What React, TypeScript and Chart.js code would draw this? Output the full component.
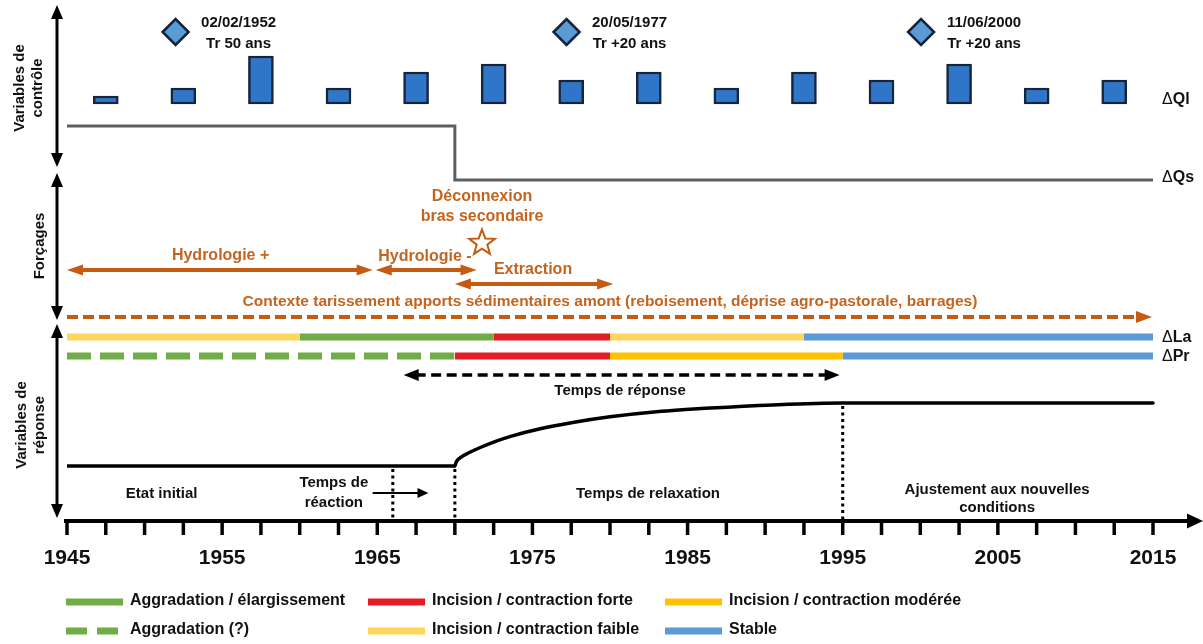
import { useEffect, useRef } from 'react';
import { Chart, registerables } from 'chart.js';

Chart.register(...registerables);

const W = 1203;
const H = 644;
const FONT = '"Liberation Sans", Arial, Helvetica, sans-serif';

// ---------------- data ----------------
const axisTickYears = [1945, 1947.5, 1950, 1952.5, 1955, 1957.5, 1960, 1962.5, 1965, 1967.5, 1970, 1972.5, 1975, 1977.5, 1980, 1982.5, 1985, 1987.5, 1990, 1992.5, 1995, 1997.5, 2000, 2002.5, 2005, 2007.5, 2010, 2012.5, 2015];
const axisLabelYears = [1945, 1955, 1965, 1975, 1985, 1995, 2005, 2015];
const axisLabels = ['1945', '1955', '1965', '1975', '1985', '1995', '2005', '2015'];

const qlYears = [1947.5, 1952.5, 1957.5, 1962.5, 1967.5, 1972.5, 1977.5, 1982.5, 1987.5, 1992.5, 1997.5, 2002.5, 2007.5, 2012.5];
const qlLevels = [1, 2, 6, 2, 4, 5, 3, 4, 2, 4, 3, 5, 2, 3];

const floodYears = [1952.0, 1977.2, 2000.05];
const floodDates = ['02/02/1952', '20/05/1977', '11/06/2000'];
const floodReturns = ['Tr 50 ans', 'Tr +20 ans', 'Tr +20 ans'];

const qsYears = [1945, 1970, 1970, 2015];
const qsLevels = [1, 1, 0, 0];

const forcingLabels = ['Hydrologie +', 'Hydrologie -', 'Extraction'];
const forcingStart = [1945, 1964.9, 1970];
const forcingEnd = [1964.7, 1971.4, 1980.2];

const disconnectionYear = 1971.75;
const disconnectionLabel = ['Déconnexion', 'bras secondaire'];
const contextLabel = 'Contexte tarissement apports sédimentaires amont (reboisement, déprise agro-pastorale, barrages)';
const contextStart = 1945;
const contextEnd = 2015;

const laStart = [1945, 1960, 1972.5, 1980, 1992.5];
const laEnd = [1960, 1972.5, 1980, 1992.5, 2015];
const laClass = ['faible', 'aggr', 'forte', 'faible', 'stable'];

const prStart = [1945, 1970, 1980, 1995];
const prEnd = [1970, 1980, 1995, 2015];
const prClass = ['aggrQ', 'forte', 'moderee', 'stable'];

const respYears = [1945, 1970, 1970.1, 1970.4, 1970.9, 1971.6, 1972.5, 1973.6, 1975.5, 1977.6, 1980, 1983, 1986.5, 1990.5, 1995, 2015];
const respLevels = [0, 0, 0.07, 0.14, 0.21, 0.29, 0.38, 0.47, 0.59, 0.69, 0.78, 0.86, 0.92, 0.97, 1, 1];

const reactionYear = 1966;
const responseStartYear = 1970;
const equilibriumYear = 1995;
const reactionArrow = [1964.7, 1968.3];
const responseSpan = [1966.7, 1994.8];

const legendLabels = ['Aggradation / élargissement', 'Incision / contraction forte', 'Incision / contraction modérée', 'Aggradation (?)', 'Incision / contraction faible', 'Stable'];
const legendClasses = ['aggr', 'forte', 'moderee', 'aggrQ', 'faible', 'stable'];

const classColors: Record<string, string> = {
  aggr: '#70AD47',
  aggrQ: '#70AD47',
  forte: '#E31D25',
  moderee: '#FFC000',
  faible: '#FFD65C',
  stable: '#5B9BD5',
};

const ORANGE = '#C55A11';
const ORANGE_TXT = '#C3641F';

// ---------------- layout (pixels) ----------------
const PX1945 = 67;
const PX2015 = 1153;
const PPY = (PX2015 - PX1945) / 70;
const X_MIN = 1945 - PX1945 / PPY;
const X_MAX = 1945 + (W - PX1945) / PPY;

const L = {
  date: 23, ret: 44, diamond: 32,
  qlBase: 104, qlStep: 8,
  qsHigh: 126, qsLow: 180,
  dec1: 197, dec2: 217, star: 242,
  hydroArrow: 270, extrArrow: 284,
  context: 302, contextArrow: 317,
  la: 337, pr: 356,
  respArrow: 375, respText: 391,
  respLow: 466, respHigh: 403,
  axis: 521, tickEnd: 535, tickLabel: 558,
  leg1: 601, leg2: 630,
};

function pixelAxis(v0: number, p0: number, v1: number, p1: number) {
  const k = (v1 - v0) / (p1 - p0);
  return { min: v0 + (H - p0) * k, max: v0 + (0 - p0) * k };
}

function head(ctx: CanvasRenderingContext2D, x: number, y: number, dx: number, dy: number, len: number, hw: number, color: string) {
  const bx = x - dx * len;
  const by = y - dy * len;
  ctx.beginPath();
  ctx.moveTo(x, y);
  ctx.lineTo(bx - dy * hw, by + dx * hw);
  ctx.lineTo(bx + dy * hw, by - dx * hw);
  ctx.closePath();
  ctx.fillStyle = color;
  ctx.fill();
}

function arrow(ctx: CanvasRenderingContext2D, x1: number, y1: number, x2: number, y2: number, o: { color: string; width: number; dash?: number[]; start?: boolean; end?: boolean; len?: number; hw?: number }) {
  const len = o.len ?? 14;
  const hw = o.hw ?? 6;
  const d = Math.hypot(x2 - x1, y2 - y1);
  const dx = (x2 - x1) / d;
  const dy = (y2 - y1) / d;
  const sx = o.start ? x1 + dx * len * 0.8 : x1;
  const sy = o.start ? y1 + dy * len * 0.8 : y1;
  const ex = o.end ? x2 - dx * len * 0.8 : x2;
  const ey = o.end ? y2 - dy * len * 0.8 : y2;
  ctx.save();
  ctx.strokeStyle = o.color;
  ctx.lineWidth = o.width;
  ctx.lineCap = 'butt';
  ctx.setLineDash(o.dash ?? []);
  ctx.beginPath();
  ctx.moveTo(sx, sy);
  ctx.lineTo(ex, ey);
  ctx.stroke();
  ctx.setLineDash([]);
  if (o.start) head(ctx, x1, y1, -dx, -dy, len, hw, o.color);
  if (o.end) head(ctx, x2, y2, dx, dy, len, hw, o.color);
  ctx.restore();
}

function text(ctx: CanvasRenderingContext2D, s: string, x: number, y: number, o: { size?: number; color?: string; align?: CanvasTextAlign; weight?: string } = {}) {
  ctx.save();
  ctx.font = `${o.weight ?? 'bold'} ${o.size ?? 16}px ${FONT}`;
  ctx.fillStyle = o.color ?? '#111';
  ctx.textAlign = o.align ?? 'center';
  ctx.textBaseline = 'middle';
  ctx.fillText(s, x, y);
  ctx.restore();
}

function vtext(ctx: CanvasRenderingContext2D, s: string, x: number, y: number, size = 16) {
  ctx.save();
  ctx.translate(x, y);
  ctx.rotate(-Math.PI / 2);
  text(ctx, s, 0, 0, { size });
  ctx.restore();
}

function deltaLabel(ctx: CanvasRenderingContext2D, s: string, x: number, y: number, size: number) {
  ctx.save();
  ctx.textBaseline = 'middle';
  ctx.textAlign = 'left';
  ctx.fillStyle = '#111';
  ctx.font = `normal ${size}px ${FONT}`;
  ctx.fillText('Δ', x, y);
  const w = ctx.measureText('Δ').width;
  ctx.font = `bold ${size}px ${FONT}`;
  ctx.fillText(s, x + w, y);
  ctx.restore();
}

const schemaPlugin = {
  id: 'schema',
  afterDatasetsDraw(chart: any) {
    const ctx: CanvasRenderingContext2D = chart.ctx;
    const xs = chart.scales.x;
    const yr = chart.scales.yR;
    const X = (v: number) => xs.getPixelForValue(v);

    // left vertical axes
    const segs = [[5, 167], [173, 320], [324, 518]];
    segs.forEach(([a, b]) => arrow(ctx, 57, a, 57, b, { color: '#000', width: 3, start: true, end: true, len: 14, hw: 6 }));
    vtext(ctx, 'Variables de', 20, 88, 15);
    vtext(ctx, 'contrôle', 38, 88, 15);
    vtext(ctx, 'Forçages', 40, 246, 15);
    vtext(ctx, 'Variables de', 22, 425, 15);
    vtext(ctx, 'réponse', 40, 425, 15);

    // flood events text
    floodYears.forEach((yr0, i) => {
      const x = X(yr0) + 63;
      text(ctx, floodDates[i], x, L.date, { size: 15 });
      text(ctx, floodReturns[i], x, L.ret, { size: 15 });
    });

    // right labels
    const rx = X(2015) + 9;
    deltaLabel(ctx, 'Ql', rx, 100, 16);
    deltaLabel(ctx, 'Qs', rx, 178, 16);
    deltaLabel(ctx, 'La', rx, L.la + 1, 16);
    deltaLabel(ctx, 'Pr', rx, L.pr + 1, 16);

    // disconnection
    const sx = X(disconnectionYear);
    text(ctx, disconnectionLabel[0], sx, L.dec1, { color: ORANGE_TXT, size: 16 });
    text(ctx, disconnectionLabel[1], sx, L.dec2, { color: ORANGE_TXT, size: 16 });
    ctx.save();
    ctx.beginPath();
    for (let i = 0; i < 10; i++) {
      const r = i % 2 === 0 ? 13.5 : 5.6;
      const a = -Math.PI / 2 + (i * Math.PI) / 5;
      const px = sx + r * Math.cos(a);
      const py = L.star + 1 + r * Math.sin(a);
      if (i === 0) ctx.moveTo(px, py); else ctx.lineTo(px, py);
    }
    ctx.closePath();
    ctx.strokeStyle = ORANGE;
    ctx.lineWidth = 2;
    ctx.stroke();
    ctx.restore();

    // forcing arrows
    const fRows = [L.hydroArrow, L.hydroArrow, L.extrArrow];
    const fLabelPos = [[1954.9, 256], [1968.07, 257], [1975.04, 270]];
    forcingLabels.forEach((lab, i) => {
      arrow(ctx, X(forcingStart[i]), fRows[i], X(forcingEnd[i]), fRows[i], { color: ORANGE, width: 4, start: true, end: true, len: 16, hw: 5.5 });
      text(ctx, lab, X(fLabelPos[i][0]), fLabelPos[i][1], { color: ORANGE_TXT, size: 16 });
    });

    // context
    text(ctx, contextLabel, X(1980.0), L.context, { color: ORANGE_TXT, size: 15.5 });
    arrow(ctx, X(contextStart), L.contextArrow, X(contextEnd) - 1, L.contextArrow, { color: ORANGE, width: 4, dash: [11, 5], end: true, len: 16, hw: 6 });

    // response time arrow
    arrow(ctx, X(responseSpan[0]), L.respArrow, X(responseSpan[1]), L.respArrow, { color: '#000', width: 3.5, dash: [10, 5.5], start: true, end: true, len: 15, hw: 6 });
    text(ctx, 'Temps de réponse', X(1980.65), L.respText, { size: 15 });

    // dotted verticals
    ctx.save();
    ctx.strokeStyle = '#000';
    ctx.lineWidth = 3;
    ctx.setLineDash([3, 3.5]);
    const dotted: [number, number][] = [[reactionYear, 0], [responseStartYear, 0], [equilibriumYear, 1]];
    dotted.forEach(([yy, lv]) => {
      ctx.beginPath();
      ctx.moveTo(X(yy), yr.getPixelForValue(lv) + 3);
      ctx.lineTo(X(yy), L.axis - 2);
      ctx.stroke();
    });
    ctx.restore();

    // response labels
    text(ctx, 'Etat initial', X(1951.1), 494, { size: 15 });
    text(ctx, 'Temps de', X(1962.2), 483, { size: 15 });
    text(ctx, 'réaction', X(1962.2), 503, { size: 15 });
    arrow(ctx, X(reactionArrow[0]), 493, X(reactionArrow[1]), 493, { color: '#000', width: 2, end: true, len: 11, hw: 5 });
    text(ctx, 'Temps de relaxation', X(1982.45), 494, { size: 15 });
    text(ctx, 'Ajustement aux nouvelles', X(2004.95), 490, { size: 15 });
    text(ctx, 'conditions', X(2004.95), 508, { size: 15 });

    // x axis
    arrow(ctx, X(1945) - 3, L.axis, W, L.axis, { color: '#000', width: 4, end: true, len: 16, hw: 7.5 });
    ctx.save();
    ctx.strokeStyle = '#000';
    ctx.lineWidth = 3.5;
    axisTickYears.forEach((t) => {
      ctx.beginPath();
      ctx.moveTo(X(t), L.axis);
      ctx.lineTo(X(t), L.tickEnd);
      ctx.stroke();
    });
    ctx.restore();
    axisLabelYears.forEach((t, i) => text(ctx, axisLabels[i], X(t), L.tickLabel, { size: 21, color: '#111' }));

    // legend
    const cols = [66, 368, 665];
    legendLabels.forEach((lab, i) => {
      const cx = cols[i % 3];
      const cy = i < 3 ? L.leg1 : L.leg2;
      const cls = legendClasses[i];
      ctx.save();
      ctx.strokeStyle = classColors[cls];
      ctx.lineWidth = 7;
      ctx.setLineDash(cls === 'aggrQ' ? [21, 10] : []);
      ctx.beginPath();
      ctx.moveTo(cx, cy + 1);
      ctx.lineTo(cx + 57, cy + 1);
      ctx.stroke();
      ctx.restore();
      text(ctx, lab, cx + 64, cy, { size: 16, align: 'left' });
    });
  },
};

function buildConfig(): any {
  const datasets: any[] = [];

  datasets.push({
    type: 'bar',
    label: 'ΔQl',
    yAxisID: 'yQ',
    data: qlYears.map((x, i) => ({ x, y: qlLevels[i] })),
    backgroundColor: '#2F76C9',
    borderColor: '#15253E',
    borderWidth: 2.5,
    borderSkipped: false,
    barThickness: 25,
    clip: false,
  });

  datasets.push({
    type: 'scatter',
    label: 'Crues',
    yAxisID: 'yL',
    data: floodYears.map((x) => ({ x, y: L.diamond })),
    pointStyle: 'rectRot',
    pointRadius: 13,
    pointBackgroundColor: '#5B9BD5',
    pointBorderColor: '#14233C',
    pointBorderWidth: 2.5,
    showLine: false,
    clip: false,
  });

  datasets.push({
    type: 'line',
    label: 'ΔQs',
    yAxisID: 'yQs',
    data: qsYears.map((x, i) => ({ x, y: qsLevels[i] })),
    borderColor: '#5E5E5E',
    borderWidth: 3,
    pointRadius: 0,
    tension: 0,
    clip: false,
  });

  const addBand = (starts: number[], ends: number[], classes: string[], row: number) => {
    starts.forEach((s, i) => {
      datasets.push({
        type: 'line',
        yAxisID: 'yL',
        data: [{ x: s, y: row }, { x: ends[i], y: row }],
        borderColor: classColors[classes[i]],
        borderWidth: 7,
        borderCapStyle: 'butt',
        borderDash: classes[i] === 'aggrQ' ? [24, 9] : [],
        pointRadius: 0,
        clip: false,
      });
    });
  };
  addBand(laStart, laEnd, laClass, L.la);
  addBand(prStart, prEnd, prClass, L.pr);

  // response variable: flat initial state, then relaxation curve
  const resp = respYears.map((x, i) => ({ x, y: respLevels[i] }));
  const k = respYears.indexOf(responseStartYear);
  datasets.push({
    type: 'line',
    label: 'Etat initial',
    yAxisID: 'yR',
    data: resp.slice(0, k + 1),
    borderColor: '#000',
    borderWidth: 3.5,
    pointRadius: 0,
    clip: false,
  });
  datasets.push({
    type: 'line',
    label: 'Relaxation',
    yAxisID: 'yR',
    data: resp.slice(k),
    borderColor: '#000',
    borderWidth: 3.5,
    borderCapStyle: 'round',
    pointRadius: 0,
    cubicInterpolationMode: 'monotone',
    clip: false,
  });

  return {
    type: 'line',
    data: { datasets },
    options: {
      animation: false,
      responsive: false,
      maintainAspectRatio: false,
      events: [],
      layout: { padding: 0, autoPadding: false },
      plugins: { legend: { display: false }, tooltip: { enabled: false }, title: { display: false } },
      scales: {
        x: { type: 'linear', min: X_MIN, max: X_MAX, display: false, offset: false },
        yL: { type: 'linear', min: 0, max: H, reverse: true, display: false },
        yQ: { type: 'linear', ...pixelAxis(0, L.qlBase, 1, L.qlBase - L.qlStep), display: false },
        yQs: { type: 'linear', ...pixelAxis(0, L.qsLow, 1, L.qsHigh), display: false },
        yR: { type: 'linear', ...pixelAxis(0, L.respLow, 1, L.respHigh), display: false },
      },
    },
    plugins: [schemaPlugin],
  };
}

export default function App() {
  const ref = useRef<HTMLCanvasElement>(null);
  useEffect(() => {
    const canvas = ref.current;
    if (!canvas) return;
    const chart = new Chart(canvas, buildConfig());
    return () => chart.destroy();
  }, []);
  return (
    <div style={{ position: 'fixed', left: 0, top: 0, width: W, height: H, background: '#fff' }}>
      <canvas ref={ref} width={W} height={H} style={{ width: W, height: H, display: 'block' }} />
    </div>
  );
}
